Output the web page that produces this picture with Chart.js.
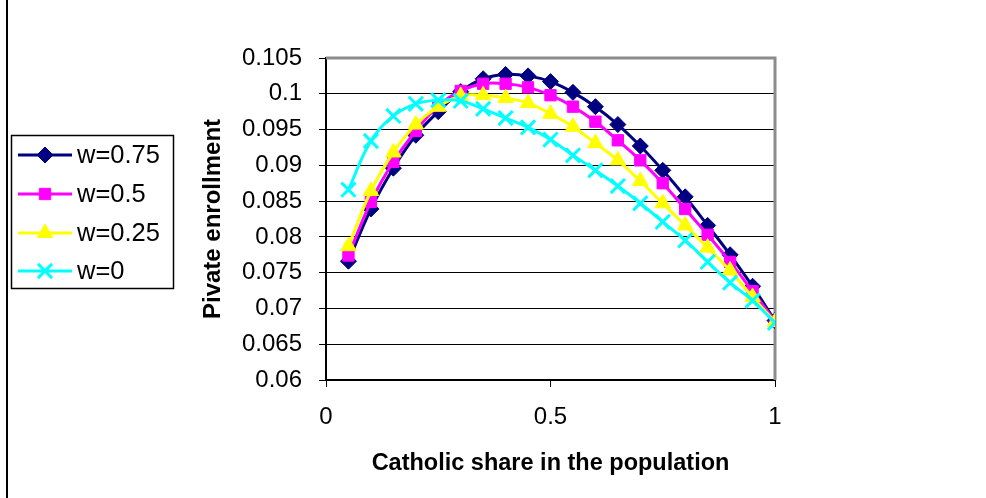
<!DOCTYPE html>
<html lang="en">
<head>
  <meta charset="UTF-8">
  <title>Pivate enrollment vs Catholic share</title>
  <script src="https://cdn.jsdelivr.net/npm/chart.js"></script>
  <style>
    body { margin: 0; background: #fff; }
    #wrap { width: 986px; height: 498px; position: relative; }
  </style>
</head>
<body>
  <div id="wrap"><canvas id="enrollChart" width="986" height="498"></canvas></div>

  <script>
    // values
    const catholicShare = [0.05, 0.1, 0.15, 0.2, 0.25, 0.3, 0.35, 0.4, 0.45, 0.5,
                           0.55, 0.6, 0.65, 0.7, 0.75, 0.8, 0.85, 0.9, 0.95, 1];
    const w075 = [0.0766, 0.0839, 0.0896, 0.0942, 0.0975, 0.1003, 0.1021, 0.1027, 0.1025, 0.1017,
                  0.1002, 0.0982, 0.0957, 0.0927, 0.0893, 0.0856, 0.0816, 0.0775, 0.0731, 0.0683];
    const w050 = [0.0774, 0.0849, 0.0905, 0.0948, 0.0983, 0.1004, 0.1014, 0.1014, 0.1009, 0.0998,
                  0.0982, 0.0961, 0.0935, 0.0907, 0.0875, 0.0839, 0.0803, 0.0765, 0.0724, 0.0682];
    const w025 = [0.0787, 0.0864, 0.0918, 0.0957, 0.0982, 0.0997, 0.0998, 0.0994, 0.0987, 0.0972,
                  0.0954, 0.0931, 0.0907, 0.0878, 0.0847, 0.0816, 0.0785, 0.0753, 0.0716, 0.0681];
    const w000 = [0.0866, 0.0934, 0.0969, 0.0986, 0.0991, 0.0990, 0.0979, 0.0966, 0.0953, 0.0936,
                  0.0914, 0.0893, 0.0871, 0.0847, 0.0821, 0.0795, 0.0765, 0.0736, 0.0711, 0.0680];
    const seriesNames = ['w=0.75', 'w=0.5', 'w=0.25', 'w=0'];

    const FONT = "Arial, 'Liberation Sans', sans-serif";

    const toPoints = vals => vals.map((v, i) => ({ x: catholicShare[i], y: v }));

    const styles = [
      { color: '#000080', pointStyle: 'rectRot', radius: 8 },
      { color: '#FF00FF', pointStyle: 'rect', radius: 8 },
      { color: '#FFFF00', pointStyle: 'triangle', radius: 9 },
      { color: '#00FFFF', pointStyle: 'crossRot', radius: 10 }
    ];

    const datasets = [w075, w050, w025, w000].map((vals, i) => ({
      label: seriesNames[i],
      data: toPoints(vals),
      borderColor: styles[i].color,
      backgroundColor: styles[i].color,
      pointBackgroundColor: styles[i].color,
      pointBorderColor: styles[i].color,
      pointStyle: styles[i].pointStyle,
      pointRadius: styles[i].radius,
      pointBorderWidth: i === 3 ? 3 : 1,
      borderWidth: 3,
      tension: 0.4,
      order: 4 - i // later series drawn on top, like the original
    }));

    // grey frame on top / right of the plot area
    const plotFrame = {
      id: 'plotFrame',
      beforeDatasetsDraw(chart) {
        const { ctx, chartArea: a } = chart;
        ctx.save();
        ctx.strokeStyle = '#8c8c8c';
        ctx.lineWidth = 3;
        ctx.beginPath();
        ctx.moveTo(a.left, a.top);
        ctx.lineTo(a.right, a.top);
        ctx.lineTo(a.right, a.bottom);
        ctx.stroke();
        ctx.restore();
      }
    };

    // boxed legend on the left with line + marker samples, and outer frame line
    const boxLegend = {
      id: 'boxLegend',
      afterDraw(chart) {
        const ctx = chart.ctx;
        ctx.save();
        ctx.strokeStyle = '#000';
        ctx.lineWidth = 2;
        ctx.beginPath();
        ctx.moveTo(7, 0);
        ctx.lineTo(7, 498);
        ctx.stroke();

        ctx.lineWidth = 1.5;
        ctx.strokeRect(11.5, 135.5, 162, 153);

        const rowY = [155, 194, 233, 271];
        chart.data.datasets.forEach((ds, i) => {
          const y = rowY[i];
          ctx.strokeStyle = ds.borderColor;
          ctx.lineWidth = 3;
          ctx.beginPath();
          ctx.moveTo(18, y);
          ctx.lineTo(72, y);
          ctx.stroke();
          ctx.fillStyle = ds.pointBackgroundColor;
          ctx.strokeStyle = ds.pointBorderColor;
          ctx.lineWidth = ds.pointBorderWidth;
          Chart.helpers.drawPoint(ctx, {
            pointStyle: ds.pointStyle,
            radius: ds.pointRadius,
            rotation: 0,
            borderWidth: ds.pointBorderWidth
          }, 45, y);
          ctx.fillStyle = '#000';
          ctx.font = '25.5px ' + FONT;
          ctx.textBaseline = 'middle';
          ctx.textAlign = 'left';
          ctx.fillText(ds.label, 77, y + 1);
        });
        ctx.restore();
      }
    };

    new Chart(document.getElementById('enrollChart'), {
      type: 'line',
      data: { datasets },
      options: {
        responsive: false,
        animation: false,
        layout: { padding: { left: 195, top: 58, right: 211, bottom: 16 } },
        plugins: {
          legend: { display: false },
          tooltip: { enabled: false }
        },
        scales: {
          x: {
            type: 'linear',
            min: 0,
            max: 1,
            afterFit: s => { s.height = 102; },
            ticks: {
              stepSize: 0.5,
              color: '#000',
              padding: 16,
              maxRotation: 0,
              font: { family: FONT, size: 24 },
              callback: v => String(+v.toFixed(1))
            },
            grid: { drawOnChartArea: false, drawTicks: true, tickLength: 7, color: '#000' },
            border: { color: '#000', width: 2 },
            title: {
              display: true,
              text: 'Catholic share in the population',
              color: '#000',
              font: { family: FONT, size: 23.5, weight: 'bold' }
            }
          },
          y: {
            min: 0.06,
            max: 0.105,
            afterFit: s => { s.width = 131; },
            ticks: {
              stepSize: 0.005,
              color: '#000',
              padding: 17,
              font: { family: FONT, size: 24 },
              callback: v => String(+v.toFixed(3))
            },
            grid: { color: '#000', lineWidth: 1, tickLength: 7 },
            border: { color: '#000', width: 2 },
            title: {
              display: true,
              text: 'Pivate enrollment',
              color: '#000',
              font: { family: FONT, size: 24, weight: 'bold' }
            }
          }
        }
      },
      plugins: [plotFrame, boxLegend]
    });
  </script>
</body>
</html>
